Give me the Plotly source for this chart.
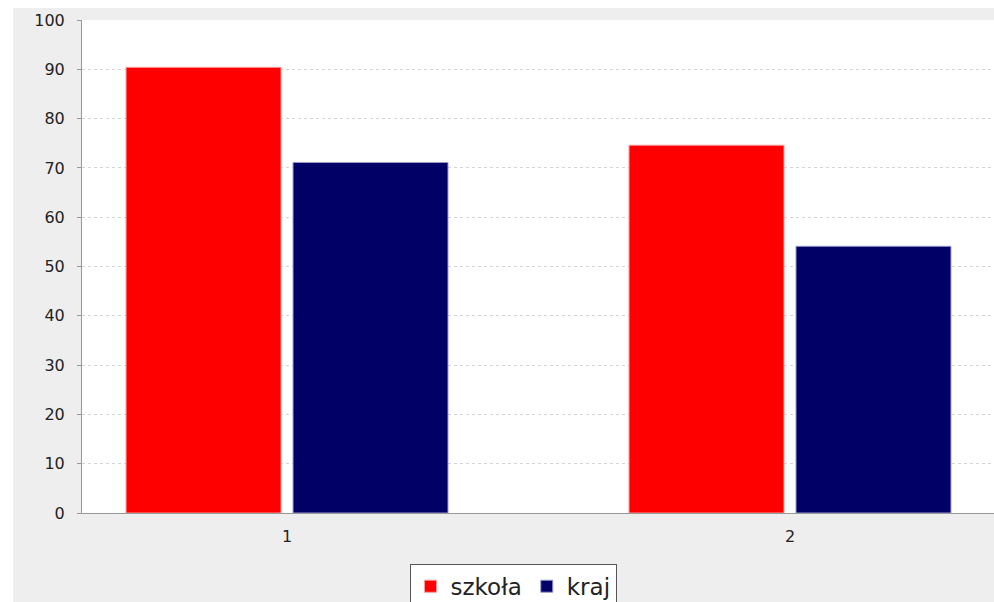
import plotly.graph_objects as go

categories = [1, 2]
szkola = [90.4, 74.6]
kraj = [71.1, 54.1]
series_names = ["szkoła", "kraj"]
y_ticks = list(range(0, 101, 10))

fig = go.Figure()
fig.add_trace(go.Bar(x=categories, y=szkola, name=series_names[0],
                     marker=dict(color="#ff0000", line=dict(color="#ff9a9a", width=1))))
fig.add_trace(go.Bar(x=categories, y=kraj, name=series_names[1],
                     marker=dict(color="#000066", line=dict(color="#9a9acc", width=1))))

# page background (white strip) + chart panel (light gray) + plot area (white)
fig.add_shape(type="rect", xref="paper", yref="paper", x0=-0.0757, x1=1.01, y0=-0.19, y1=1.0243,
              fillcolor="#eeeeee", line=dict(width=0), layer="below")
fig.add_shape(type="rect", xref="paper", yref="paper", x0=0, x1=1.01, y0=0, y1=1,
              fillcolor="#ffffff", line=dict(width=0), layer="below")

fig.update_layout(
    width=994, height=602,
    margin=dict(l=82, r=0, t=20, b=89, autoexpand=False),
    paper_bgcolor="#ffffff",
    plot_bgcolor="#ffffff",
    barmode="group",
    bargap=0.336,
    bargroupgap=0.072,
    font=dict(family="DejaVu Sans", size=16, color="#222222"),
    showlegend=True,
    legend=dict(orientation="h", x=0.4726, xanchor="center", y=-0.103, yanchor="top",
                bgcolor="#ffffff", bordercolor="#555555", borderwidth=1,
                font=dict(size=23, color="#222222"), itemwidth=30,
                tracegroupgap=0),
)
fig.update_xaxes(range=[0.5924, 2.4056], tickvals=categories, ticktext=[str(c) for c in categories],
                 showgrid=False, zeroline=False, showline=True, linecolor="#999999", linewidth=1,
                 ticks="", ticklabelstandoff=9)
fig.update_yaxes(range=[0, 100], tickvals=y_ticks, showgrid=True, gridcolor="#d4d4d4",
                 griddash="3px,3px", gridwidth=1, zeroline=False, showline=True,
                 linecolor="#999999", linewidth=1, ticks="outside", ticklen=4,
                 tickcolor="#999999", ticklabelstandoff=9)

fig.write_html("out.html", config={"displayModeBar": False},
               post_script="document.body.style.margin='0';document.body.style.overflow='hidden';")
